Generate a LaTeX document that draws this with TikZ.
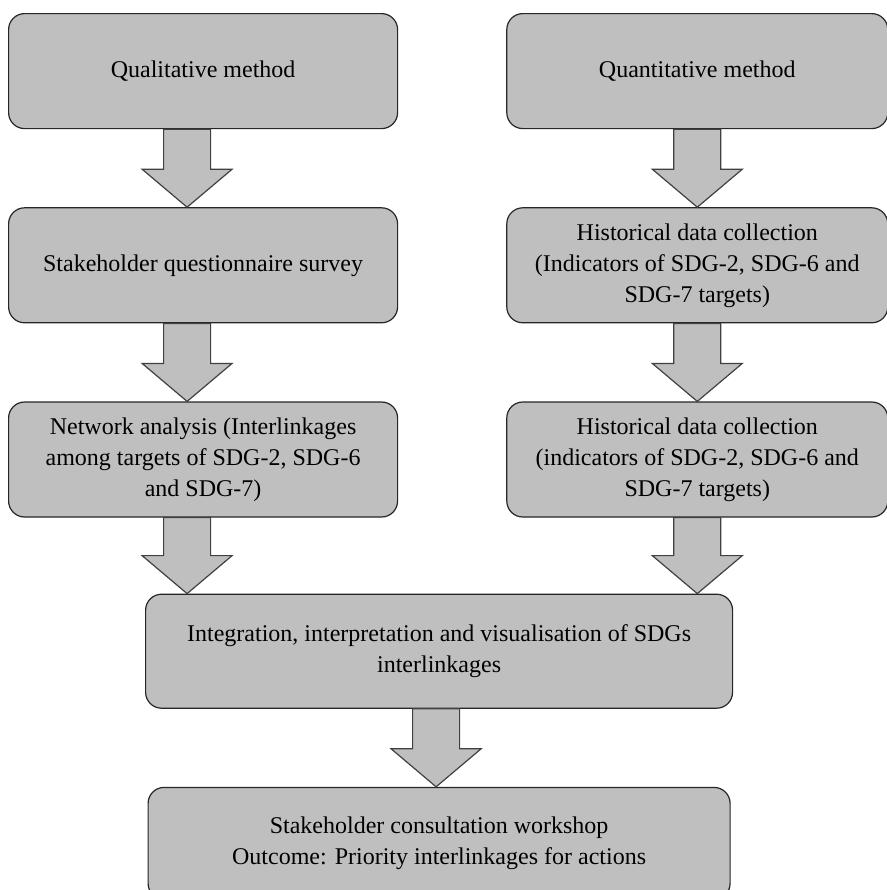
\documentclass[tikz,border=0pt]{standalone}
\usepackage{fontspec}
\setmainfont{Liberation Serif}
\usepackage{tikz}
\usetikzlibrary{positioning, calc}

% block arrow from one box down to the next
\newcommand{\fatarrow}[3]{%
    \draw[fat] let \p1=($(#1.south)+(#3,0)$), \p2=(#2.north) in
        (\x1-11.75pt,\y1) -- (\x1-11.75pt,\y2+19pt) -- (\x1-22.5pt,\y2+19pt) -- (\x1,\y2)
        -- (\x1+22.5pt,\y2+19pt) -- (\x1+11.75pt,\y2+19pt) -- (\x1+11.75pt,\y1) -- cycle;}

\begin{document}
\begin{tikzpicture} [
        box/.style={rectangle, draw=black!85, line width=0.6pt, fill=gray!50, rounded corners=8pt, align=center, font=\fontsize{12}{15.5}\selectfont, inner sep=0pt},
        lbox/.style={box, minimum width=194.5pt, minimum height=57.5pt},
        rbox/.style={box, minimum width=190.5pt, minimum height=57.5pt},
        fat/.style={draw=black!75, line width=0.6pt, fill=gray!50, line join=miter}
    ]
        \useasboundingbox (0,0) rectangle (443.5pt,-445pt);

        % Nodes
        \node[lbox, anchor=north west] (qual) at (4pt,-6.5pt) {Qualitative method};
        \node[rbox, right=54pt of qual] (quant) {Quantitative method};

        \node[lbox, below=39pt of qual] (survey) {Stakeholder questionnaire survey};
        \node[rbox, below=39pt of quant] (hist1) {Historical data collection\\(Indicators of SDG-2, SDG-6 and\\SDG-7 targets)};

        \node[lbox, below=39pt of survey] (netw) {Network analysis (Interlinkages\\among targets of SDG-2, SDG-6\\and SDG-7)};
        \node[rbox, below=39pt of hist1] (hist2) {Historical data collection\\(indicators of SDG-2, SDG-6 and\\SDG-7 targets)};

        \node[box, minimum width=293.5pt, minimum height=57pt, below=38pt of netw, xshift=118pt] (integ) {Integration, interpretation and visualisation of SDGs\\interlinkages};

        \node[box, minimum width=291pt, minimum height=56pt, below=39pt of integ] (work) {Stakeholder consultation workshop\\Outcome: Priority interlinkages for actions};

        % Arrows
        \fatarrow{qual}{survey}{-8pt}
        \fatarrow{survey}{netw}{-8pt}
        \fatarrow{netw}{integ}{-8pt}
        \fatarrow{quant}{hist1}{0pt}
        \fatarrow{hist1}{hist2}{0pt}
        \fatarrow{hist2}{integ}{0pt}
        \fatarrow{integ}{work}{-1.5pt}
    \end{tikzpicture}
\end{document}
